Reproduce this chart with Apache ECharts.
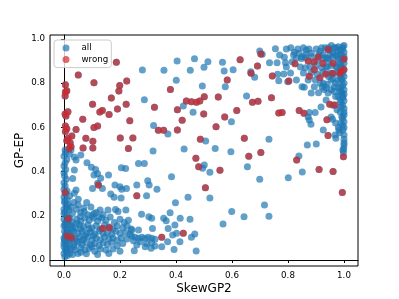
<!DOCTYPE html>
<html>
<head>
<meta charset="utf-8">
<script src="https://cdn.jsdelivr.net/npm/echarts@6/dist/echarts.min.js"></script>
<style>html,body{margin:0;padding:0;background:#fff}#c{width:399px;height:299px}</style>
</head>
<body>
<div id="c"></div>
<script>
const xTicks = [0, 0.2, 0.4, 0.6, 0.8, 1.0];
const yTicks = [0, 0.2, 0.4, 0.6, 0.8, 1.0];
const xLabel = 'SkewGP2';
const yLabel = 'GP-EP';
const seriesNames = ['all', 'wrong'];

const blueLeftColumn = [
[0.000,0.030],[0.005,0.045],[0.000,0.060],[0.010,0.070],[0.003,0.085],[0.000,0.100],[0.008,0.115],[0.002,0.130],[0.012,0.140],[0.000,0.155],
[0.006,0.170],[0.000,0.185],[0.010,0.200],[0.003,0.215],[0.000,0.230],[0.008,0.245],[0.002,0.260],[0.012,0.272],[0.000,0.285],[0.006,0.300],
[0.000,0.320],[0.004,0.335],[0.000,0.350],[0.008,0.365],[0.002,0.380],[0.000,0.395],[0.006,0.410],[0.000,0.425],[0.004,0.440],[0.010,0.455],
[0.000,0.470],[0.005,0.485],[0.004,0.498],[0.015,0.050],[0.018,0.090],[0.016,0.125],[0.020,0.160],[0.018,0.225],[0.015,0.250],[0.020,0.030],
[0.012,0.020],[0.003,0.015],[0.000,0.210],[0.005,0.110],[0.015,0.190],[0.010,0.040],[0.000,0.075],[0.012,0.100],[0.006,0.150],[0.014,0.175],
[0.008,0.058],[0.002,0.092],[0.010,0.128],[0.004,0.163],[0.009,0.232],[0.003,0.268],[0.011,0.312]
];

const blueLowerLeft = [
[0.02,0.19],[0.03,0.17],[0.045,0.185],[0.06,0.175],[0.075,0.19],[0.09,0.18],[0.105,0.19],[0.12,0.175],[0.135,0.19],[0.15,0.18],[0.165,0.195],[0.18,0.17],[0.20,0.185],[0.215,0.17],[0.23,0.18],
[0.025,0.155],[0.04,0.145],[0.055,0.16],[0.07,0.15],[0.085,0.16],[0.10,0.145],[0.115,0.155],[0.13,0.14],[0.145,0.16],[0.16,0.15],[0.175,0.14],[0.19,0.155],[0.21,0.145],[0.225,0.155],[0.24,0.14],
[0.02,0.125],[0.035,0.13],[0.05,0.12],[0.065,0.13],[0.08,0.12],[0.095,0.128],[0.11,0.118],[0.125,0.13],[0.14,0.12],[0.155,0.125],[0.17,0.115],[0.185,0.13],[0.20,0.12],[0.22,0.125],[0.235,0.115],
[0.025,0.10],[0.04,0.095],[0.055,0.105],[0.07,0.095],[0.085,0.105],[0.10,0.09],[0.115,0.10],[0.13,0.092],[0.145,0.105],[0.16,0.095],[0.175,0.10],[0.19,0.09],[0.205,0.10],[0.225,0.095],
[0.02,0.075],[0.035,0.07],[0.05,0.08],[0.065,0.07],[0.08,0.078],[0.095,0.068],[0.11,0.075],[0.125,0.065],[0.14,0.078],[0.155,0.07],[0.17,0.08],[0.19,0.065],[0.21,0.075],
[0.025,0.05],[0.04,0.045],[0.06,0.055],[0.075,0.045],[0.09,0.052],[0.11,0.04],[0.13,0.05],[0.15,0.045],[0.175,0.05],[0.2,0.04],
[0.03,0.025],[0.05,0.03],[0.08,0.028],[0.12,0.025],[0.16,0.03],
[0.03,0.21],[0.045,0.23],[0.06,0.215],[0.025,0.24],[0.05,0.25],[0.07,0.235],[0.035,0.26],[0.02,0.29],[0.085,0.205],[0.10,0.2],[0.115,0.215],[0.14,0.205],[0.125,0.195],
[0.03,0.11],[0.045,0.085],[0.06,0.14],[0.075,0.11],[0.09,0.14],[0.035,0.06],[0.065,0.09],[0.1,0.06],[0.045,0.165],[0.03,0.14],[0.105,0.11],[0.06,0.035]
];

const blueLeftSparse = [
[0.025,0.498],[0.019,0.480],[0.043,0.452],[0.060,0.475],[0.037,0.466],[0.082,0.440],[0.098,0.420],[0.113,0.410],[0.120,0.390],[0.107,0.385],
[0.131,0.370],[0.120,0.347],[0.102,0.324],[0.159,0.385],[0.182,0.339],[0.205,0.418],[0.220,0.414],[0.266,0.437],[0.287,0.437],[0.299,0.359],
[0.304,0.339],[0.260,0.339],[0.332,0.320],[0.384,0.377],[0.398,0.259],[0.443,0.284],[0.037,0.407],[0.031,0.369],[0.043,0.317],
[0.167,0.299],[0.179,0.284],[0.204,0.281],[0.223,0.324],[0.137,0.324],[0.081,0.260],[0.051,0.275],[0.037,0.302],[0.295,0.291],[0.157,0.226],
[0.184,0.229],[0.193,0.219],[0.221,0.226],[0.129,0.226],[0.277,0.207],[0.303,0.196],[0.379,0.214],[0.356,0.189],[0.415,0.189],[0.096,0.240],
[0.072,0.219],[0.107,0.211],[0.058,0.196],[0.200,0.332],[0.206,0.320],[0.365,0.178],[0.313,0.189],[0.450,0.184],[0.396,0.158],[0.372,0.143],
[0.316,0.143],[0.242,0.136],[0.266,0.136],[0.402,0.121],[0.388,0.113],[0.467,0.118],[0.455,0.103],[0.414,0.083],[0.370,0.083],[0.349,0.060],
[0.393,0.048],[0.472,0.041],[0.251,0.042],[0.242,0.109],[0.254,0.103],[0.266,0.098],[0.278,0.103],[0.290,0.098],[0.301,0.103],[0.313,0.098],
[0.325,0.094],[0.248,0.087],[0.272,0.083],[0.295,0.075],[0.313,0.078],[0.260,0.068],[0.290,0.060],[0.311,0.053],[0.325,0.063]
];

const blueMiddle = [
[0.404,0.900],[0.466,0.910],[0.280,0.860],[0.357,0.858],[0.451,0.858],[0.500,0.872],[0.514,0.897],[0.401,0.813],[0.494,0.787],[0.287,0.725],
[0.426,0.697],[0.461,0.668],[0.320,0.609],[0.371,0.570],[0.506,0.538],[0.318,0.493],[0.429,0.502],[0.566,0.895],[0.572,0.855],[0.604,0.861],
[0.652,0.742],[0.576,0.784],[0.598,0.626],[0.732,0.546],[0.540,0.505],[0.596,0.490],[0.501,0.430],[0.495,0.415],[0.521,0.397],[0.655,0.422],
[0.699,0.365],[0.521,0.281],[0.599,0.219],[0.643,0.196],[0.716,0.249],[0.732,0.198],[0.568,0.163],[0.801,0.372],[0.839,0.471],[0.851,0.398],
[0.996,0.498],[0.708,0.931]
];

const blueUpperRight = [
[0.794,0.955],[0.823,0.940],[0.865,0.950],[0.883,0.935],[0.901,0.955],[0.915,0.945],[0.933,0.960],[0.950,0.950],[0.961,0.935],[0.972,0.960],
[0.986,0.950],[0.996,0.965],[0.699,0.946],[0.755,0.956],[0.770,0.928],[0.787,0.917],[0.820,0.928],[0.840,0.935],[0.864,0.930],
[0.830,0.914],[0.848,0.912],[0.862,0.916],[0.926,0.914],[0.943,0.912],[0.979,0.916],
[0.734,0.893],[0.761,0.893],[0.791,0.893],[0.815,0.897],
[0.794,0.873],[0.844,0.873],[0.862,0.870],[0.879,0.876],[0.936,0.873],[0.972,0.876],[0.989,0.873],
[0.667,0.852],[0.681,0.827],[0.763,0.840],[0.785,0.842],[0.809,0.846],[0.855,0.846],[0.883,0.848],[0.950,0.846],[0.961,0.843],
[0.767,0.811],[0.799,0.807],[0.830,0.814],[0.872,0.814],[0.897,0.816],[0.926,0.800],[0.954,0.814],[0.979,0.812],[0.993,0.816],
[0.850,0.784],[0.858,0.782],[0.894,0.784],[0.922,0.783],[0.936,0.780],[0.965,0.784],[0.989,0.783],
[0.883,0.756],[0.909,0.757],[0.929,0.772],[0.943,0.756],[0.965,0.762],[0.993,0.756],
[0.996,0.739],[0.936,0.724],[0.986,0.724],[0.989,0.712],[0.918,0.692],[0.989,0.692],[1.000,0.686],[0.876,0.667],[0.897,0.667],[0.986,0.670],
[1.000,0.667],[0.872,0.647],[0.954,0.647],[0.992,0.648],[0.876,0.633],[0.959,0.637],[0.882,0.614],[0.989,0.620],[0.926,0.588],[0.982,0.588],
[0.996,0.588],[0.985,0.576],[0.968,0.566],[1.000,0.566],[0.971,0.551],[1.000,0.546],[1.000,0.530],[0.869,0.520],[0.901,0.525],[1.000,0.520],
[0.999,0.505],[0.998,0.486]
];

const blueRightColumn = [
[1.000,0.970],[0.995,0.955],[1.000,0.940],[0.990,0.930],[1.000,0.920],[0.995,0.905],[1.000,0.890],[0.990,0.880],[1.000,0.860],[0.995,0.845],
[1.000,0.830],[0.990,0.820],[1.000,0.800],[0.995,0.790],[1.000,0.770],[0.990,0.760],[1.000,0.750],[0.995,0.735],[1.000,0.720],[0.995,0.700],
[1.000,0.655],[0.995,0.640],[1.000,0.625],[0.995,0.610],[1.000,0.600],[0.980,0.965],[0.975,0.945],[0.985,0.930],[0.970,0.925],[0.980,0.905],
[0.965,0.960],[0.955,0.970],[0.945,0.960],[0.960,0.920],[0.950,0.930],[0.985,0.890],[0.975,0.870],[0.980,0.850],[0.985,0.830],[0.970,0.800],
[0.980,0.780],[0.985,0.765],[0.980,0.740],[0.920,0.960],[0.910,0.930],[0.925,0.930],[0.935,0.915],[0.905,0.905],[0.945,0.905],[0.955,0.880],
[0.940,0.875],[0.920,0.870],[0.900,0.880],[0.885,0.920],[0.875,0.955],[0.855,0.960],[0.850,0.920],[0.835,0.955],[0.810,0.960],[0.905,0.840],
[0.925,0.850],[0.945,0.830],[0.960,0.820],[0.915,0.800],[0.940,0.795],[0.955,0.770],[0.970,0.740],[0.960,0.700],[0.975,0.680],[0.970,0.620],
[0.980,0.600]
];

const wrongPts = [
[0.187,0.895],[0.051,0.837],[0.107,0.802],[0.005,0.793],[0.010,0.766],[0.004,0.742],[0.005,0.760],[0.224,0.810],[0.199,0.790],[0.196,0.765],
[0.169,0.733],[0.102,0.705],[0.222,0.705],[0.014,0.671],[0.007,0.652],[0.004,0.661],[0.128,0.670],[0.137,0.676],[0.161,0.658],[0.191,0.683],
[0.067,0.637],[0.235,0.630],[0.005,0.606],[0.010,0.594],[0.005,0.582],[0.043,0.591],[0.107,0.599],[0.120,0.606],[0.201,0.552],[0.246,0.552],
[0.014,0.551],[0.028,0.561],[0.010,0.540],[0.078,0.551],[0.103,0.537],[0.022,0.531],[0.068,0.507],[0.103,0.507],[0.230,0.504],[0.025,0.513],
[0.018,0.505],
[0.323,0.691],[0.337,0.587],[0.356,0.587],[0.405,0.588],[0.380,0.772],[0.405,0.680],[0.422,0.632],[0.437,0.719],[0.455,0.716],[0.473,0.714],
[0.485,0.719],[0.501,0.739],[0.499,0.661],[0.487,0.546],[0.471,0.460],[0.481,0.422],[0.505,0.327],[0.260,0.291],[0.426,0.121],[0.349,0.103],
[0.123,0.339],[0.004,0.305],[0.015,0.187],[0.011,0.109],[0.027,0.101],[0.138,0.143],[0.162,0.146],
[0.629,0.906],[0.703,0.932],[0.691,0.878],[0.668,0.845],[0.744,0.833],[0.583,0.814],[0.551,0.738],[0.673,0.714],[0.693,0.718],[0.741,0.734],
[0.617,0.677],[0.767,0.665],[0.779,0.667],[0.574,0.647],[0.543,0.603],[0.644,0.551],[0.703,0.487],[0.660,0.469],[0.557,0.406],[0.831,0.452],
[0.911,0.410],[0.961,0.401],[0.998,0.467],[0.994,0.306],
[0.943,0.952],[1.000,0.909],[0.825,0.888],[0.872,0.900],[0.893,0.896],[0.908,0.919],[0.894,0.861],[0.961,0.890],[0.924,0.890],[0.914,0.825],
[0.935,0.842],[0.985,0.845],[0.999,0.863],[0.876,0.831],[0.959,0.845],[0.803,0.810],[0.949,0.705],[0.967,0.701],[0.840,0.677],[0.857,0.664],
[0.939,0.635],[0.943,0.563],[0.990,0.853]
];

const allPts = [].concat(blueLeftColumn, blueLowerLeft, blueLeftSparse, blueMiddle, blueUpperRight, blueRightColumn, wrongPts);

const chart = echarts.init(document.getElementById('c'), null, {renderer: 'canvas'});
const fam = 'DejaVu Sans';
const axisCommon = (ticks) => ({
  type: 'value',
  nameLocation: 'middle',
  nameMoveOverlap: false,
  nameTextStyle: {fontSize: 12, color: '#000', fontFamily: fam},
  axisLine: {show: true, lineStyle: {color: '#000', width: 1}},
  axisTick: {show: true, inside: false, length: 3, customValues: ticks, lineStyle: {color: '#000', width: 1}},
  axisLabel: {customValues: ticks, formatter: v => v.toFixed(1), fontSize: 8.7, color: '#000', fontFamily: fam, margin: 5},
  splitLine: {show: false}
});
chart.setOption({
  animation: false,
  textStyle: {fontFamily: fam},
  grid: {left: 50, right: 41, top: 35, bottom: 33, show: true, borderColor: '#000', borderWidth: 1,
         containLabel: false, outerBoundsMode: 'none'},
  xAxis: Object.assign(axisCommon(xTicks), {min: -0.05, max: 1.05, name: xLabel, nameGap: 17}),
  yAxis: Object.assign(axisCommon(yTicks), {min: -0.027, max: 1.018, name: yLabel, nameGap: 24}),
  legend: {
    orient: 'vertical', left: 54, top: 40,
    icon: 'circle', itemWidth: 7, itemHeight: 7, itemGap: 1.6,
    padding: [3, 3, 3, 8.5],
    borderColor: '#ccc', borderWidth: 1, borderRadius: 3,
    backgroundColor: 'rgba(255,255,255,0.8)',
    textStyle: {fontSize: 8.7, lineHeight: 10, color: '#000', fontFamily: fam, padding: [0, 0, 0, 7]},
    data: seriesNames
  },
  series: [
    {name: seriesNames[0], type: 'scatter', data: allPts, symbolSize: 7,
     itemStyle: {color: '#1f77b4', opacity: 0.7}, emphasis: {disabled: true}},
    {name: seriesNames[1], type: 'scatter', data: wrongPts, symbolSize: 7,
     itemStyle: {color: '#d62728', opacity: 0.7}, emphasis: {disabled: true}}
  ]
});
</script>
</body>
</html>
